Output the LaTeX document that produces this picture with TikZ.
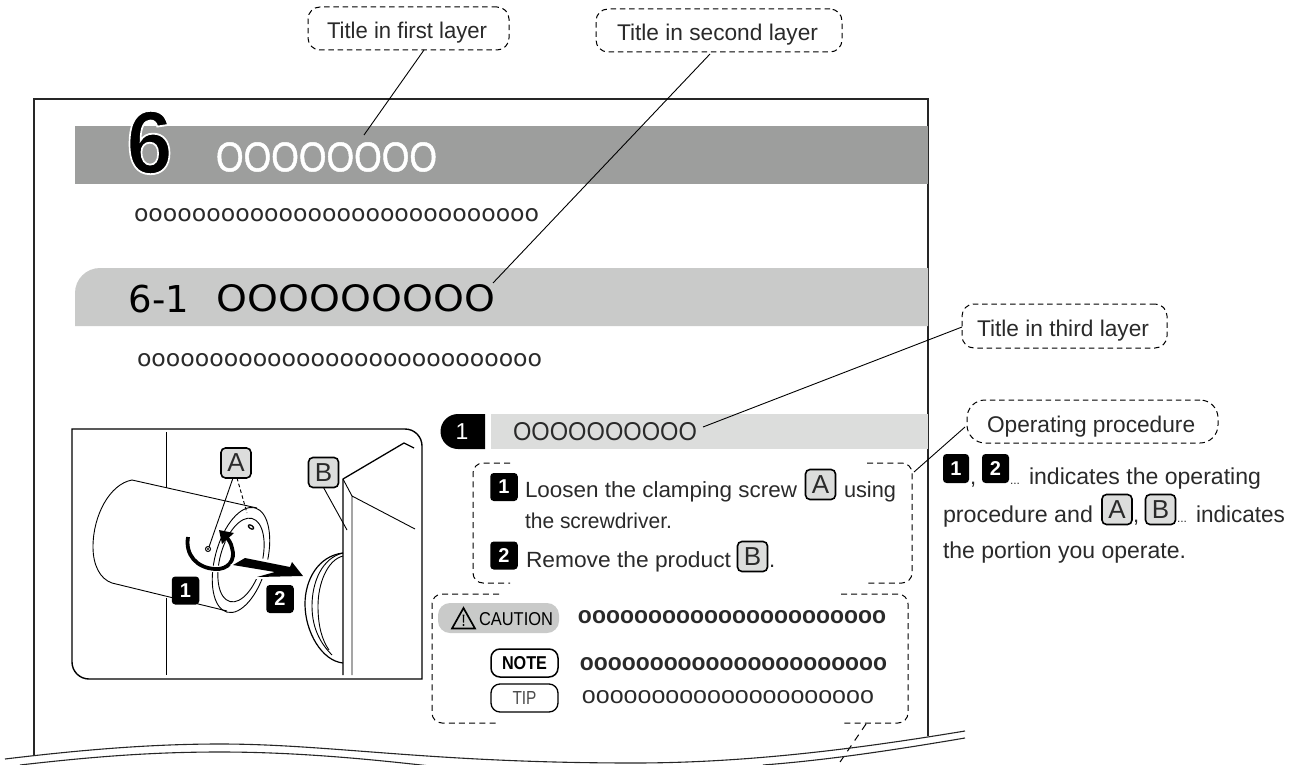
\documentclass[tikz,border=0pt]{standalone}
\usepackage{fontspec}
\usepackage{graphicx}
\setmainfont{Liberation Sans}
\newfontfamily\dejav{DejaVu Sans}
\definecolor{bandA}{HTML}{9D9E9D}
\definecolor{bandB}{HTML}{C9CAC9}
\definecolor{bandC}{HTML}{DCDDDC}
\definecolor{ink}{HTML}{2A2A2A}
\newcommand{\fz}[1]{\fontsize{#1}{#1}\selectfont}
\newcommand{\fitbox}[3]{\resizebox{#1pt}{#2pt}{#3}}
\newcommand{\fitw}[2]{\resizebox{#1pt}{\height}{#2}}
\newcommand{\strokedtext}[3]{\special{pdf:literal direct 2 Tr #2 w #1 RG}#3\special{pdf:literal direct 0 Tr 1 w 0 0 0 RG}}
\tikzset{
  every node/.style={inner sep=0pt,outer sep=0pt,text=ink},
  frameline/.style={draw=black!85,line width=1.3pt},
  thinline/.style={draw=black,line width=0.9pt},
  thickline/.style={draw=black,line width=1.4pt},
  dashline/.style={draw=black,line width=1pt,dash pattern=on 6pt off 4.2pt,rounded corners=10pt},
  callout/.style={draw=black,line width=1pt,dash pattern=on 5.5pt off 3.8pt,rounded corners=12pt,fill=white},
  lbl/.style={anchor=base west,font=\fz{22}},
  blackbox/.style={fill=black,rounded corners=3.5pt,text=white,font=\bfseries\fz{20},minimum width=27.5pt,minimum height=28pt},
  greybox/.style={draw=black,line width=1.6pt,fill=bandC,rounded corners=4.5pt,text=ink,font=\fz{26},minimum width=30pt,minimum height=30pt},
  badge/.style={draw=black,line width=1.3pt,fill=white,rounded corners=9pt,minimum width=67pt,minimum height=28pt},
  clbl/.style={anchor=base west,font=\fz{22.7}},
}
\begin{document}
\begin{tikzpicture}[x=1pt,y=-1pt]
\useasboundingbox (0,0) rectangle (1301,765);
% page frame
\draw[frameline] (34,755) -- (34,99) -- (928,99) -- (928,736);
% bands
\fill[bandA] (75,126) rectangle (928,184);
\fill[bandB] (75,326) -- (75,293) arc[start angle=180,end angle=90,x radius=25pt,y radius=25pt] -- (928,268) -- (928,326) -- cycle;
\fill[bandC] (491,414) rectangle (928,449);
\fill[black] (485,414) -- (458,414) arc[start angle=90,end angle=270,x radius=17.5pt,y radius=17.5pt] -- (485,449) -- cycle;
\node[text=white,font=\fz{23}] (pillnum) at (462,432) {1};
% titles
\node (six) at (149.5,142.5) {\fitbox{46}{62.5}{\bfseries\textcolor{black}{\strokedtext{1 1 1}{0.2}{6}}}};
\node[text=white] (tone) at (326.5,157) {\fitbox{221}{29}{\textcolor{white}{\strokedtext{1 1 1}{0.12}{OOOOOOOO}}}};
\node[anchor=base west] (bodyone) at (134,221.5) {\fitbox{405}{13}{\dejav oooooooooooooooooooooooooooo}};
\node[anchor=base west,font=\dejav\fz{37},text=black] (ttwonum) at (128.5,312) {6-1};
\node[text=black] (ttwo) at (356,298.5) {\fitbox{278}{27}{\dejav OOOOOOOOO}};
\node[anchor=base west] (bodytwo) at (137,366.5) {\fitbox{405}{13}{\dejav oooooooooooooooooooooooooooo}};
\node (tthree) at (605,431.5) {\fitbox{184}{18}{OOOOOOOOOO}};
% illustration
\draw[thickline] (72,429) -- (405,429) arc[start angle=90,end angle=0,x radius=17pt,y radius=17pt] -- (422,679) -- (89,679) arc[start angle=90,end angle=180,x radius=17pt,y radius=-17pt] -- cycle;
\draw[thinline] (166,432) -- (166,488);
\draw[thinline] (166,598) -- (166,675);
\draw[thinline] (132,480) -- (257,508);
\draw[thinline] (132,480) .. controls (110,484) and (93,515) .. (93,547) .. controls (93,565) and (100,579) .. (112,583) -- (227,611);
\draw[thinline,rotate around={75:(241,560)}] (241,560) ellipse [x radius=54pt,y radius=26pt];
\draw[thinline,rotate around={75:(241,560)}] (241,560) ellipse [x radius=43pt,y radius=21pt];
\draw[black,line width=1pt] (208,549) circle (2.5pt);
\fill[black] (208,549) circle (1.2pt);
\draw[black,line width=1.3pt,rotate around={-35:(251,527)}] (251,527) ellipse [x radius=3pt,y radius=1.6pt];
% plate and dome
\draw[black,line width=1.3pt] (343,675) -- (343,479) -- (404,443) -- (414,448);
\draw[thinline] (352,675) -- (352,496) -- (415,529);
\draw[thinline] (343,479) -- (352,496);
\draw[black,line width=1.2pt] (343,553) .. controls (318,556) and (305,580) .. (305,604) .. controls (305,632) and (322,661) .. (343,663);
\draw[thinline] (343,553) .. controls (322,558) and (312,582) .. (312,606) .. controls (312,630) and (322,645) .. (332,655);
\draw[thinline] (343,556) .. controls (327,560) and (318,584) .. (318,606) .. controls (318,626) and (322,640) .. (329,650);
% rotation arrow
\draw[white,line width=6.5pt] (188,537) .. controls (185,555) and (197,568) .. (215,569) .. controls (228,570) and (236,560) .. (232,548) .. controls (231,543) and (229,540) .. (226,537);
\draw[black,line width=3.8pt] (188,537) .. controls (185,555) and (197,568) .. (215,569) .. controls (228,570) and (236,560) .. (232,548) .. controls (231,543) and (229,540) .. (226,537);
\fill[black] (219,530) -- (234,533) -- (222,544) -- cycle;
% pull arrow
\fill[white] (230,565) -- (245,555) -- (290,564) -- (293,559) -- (306,578) -- (255,579) -- cycle;
\fill[black] (233,565) -- (245,558) -- (290,567) -- (292,562) -- (303,576) -- (257,577) -- (275,572) -- cycle;
% labels in illustration
\node[greybox] (illA) at (236,463) {A};
\node[greybox] (illB) at (323.5,472.5) {B};
\coordinate (screw) at (209,547);
\coordinate (ringscrew) at (247,513);
\coordinate (plate) at (347,530);
\draw[thinline] (illA.south) ++(-3,0) -- (screw);
\draw[black,line width=0.9pt,dash pattern=on 3.5pt off 2.5pt] (illA.south) ++(1,0) -- (ringscrew);
\draw[thinline] (illB.south) -- (plate);
\node[blackbox] (ill1) at (185.5,590.5) {1};
\node[blackbox] (ill2) at (280,599) {2};
% procedure block
\draw[dashline] (510,463) -- (473,463) -- (473,583) -- (510,583);
\draw[dashline] (867,463) -- (912,463) -- (912,583) -- (867,583);
\node[blackbox] (st1) at (504,487) {1};
\node[lbl] (st1a) at (525,497) {\fitw{272}{Loosen the clamping screw}};
\node[greybox] (stA) at (820.5,484.5) {A};
\node[lbl] (st1b) at (844,497) {\fitw{52}{using}};
\node[lbl,font=\fz{21.5}] (st1c) at (525,528) {\fitw{147}{the screwdriver.}};
\node[blackbox] (st2) at (504,555.5) {2};
\node[lbl] (st2a) at (526,567) {\fitw{205}{Remove the product}};
\node[greybox] (stB) at (752.5,556.5) {B};
\node[lbl] (st2b) at (769,567) {.};
% cautions block
\draw[dashline] (499,594) -- (432,594) -- (432,723) -- (499,723);
\draw[dashline] (841,594) -- (908,594) -- (908,723) -- (841,723);
\fill[bandB,rounded corners=12pt] (438,603) rectangle (559,633);
\draw[black,line width=1.7pt,line join=miter] (463.5,608) -- (475,628.5) -- (452,628.5) -- cycle;
\fill[black] (462.7,614.5) -- (464.3,614.5) -- (464,622.5) -- (463,622.5) -- cycle;
\fill[black] (463.5,625) circle (1.1pt);
\node (cau) at (516,619.5) {\fitbox{74}{13}{\textcolor{black}{CAUTION}}};
\node (ocau) at (732,617) {\fitbox{308}{13}{\bfseries oooooooooooooooooooooo}};
\node[badge,line width=1.5pt] (note) at (524.5,663) {\fitbox{45}{13}{\bfseries\textcolor{black}{NOTE}}};
\node (onote) at (733.5,664) {\fitbox{307}{13}{\bfseries oooooooooooooooooooooo}};
\node[badge] (tip) at (524.5,698) {\fitbox{24}{13}{\textcolor{black!70}{TIP}}};
\node (otip) at (728,697.5) {\fitbox{292}{13}{ooooooooooooooooooooo}};
% callouts
\node[callout,minimum width=201pt,minimum height=43pt] (c1) at (408.5,28.5) {};
\node[clbl] (c1t) at (327,39) {\fitw{160}{Title in first layer}};
\node[callout,minimum width=246pt,minimum height=43pt] (c2) at (719,30.5) {};
\node[clbl] (c2t) at (617,41) {Title in second layer};
\node[callout,minimum width=205pt,minimum height=44pt] (c3) at (1064.5,326) {};
\node[clbl] (c3t) at (977,336) {Title in third layer};
\node[callout,rounded corners=18pt,minimum width=251pt,minimum height=43pt] (c4) at (1092.5,421.5) {};
\node[clbl] (c4t) at (987,432) {Operating procedure};
% connectors
\coordinate (c1a) at (424,50); \coordinate (c1b) at (364,135);
\coordinate (c2a) at (710,54); \coordinate (c2b) at (493,283);
\coordinate (c3a) at (962,327); \coordinate (c3b) at (703,427);
\coordinate (c4a) at (965,427); \coordinate (c4b) at (914,472);
\coordinate (c5a) at (866,724); \coordinate (c5b) at (838,765);
\draw[thinline] (c1a) -- (c1b);
\draw[thinline] (c2a) -- (c2b);
\draw[thinline] (c3a) -- (c3b);
\draw[thinline] (c4a) -- (c4b);
\draw[black,line width=1pt,dash pattern=on 7pt off 6pt] (c5a) -- (c5b);
% side note
\node[blackbox,minimum width=26pt,minimum height=29pt] (n1) at (956,468.5) {1};
\node[lbl] (nc1) at (970,484) {,};
\node[blackbox,minimum width=27pt,minimum height=29pt] (n2) at (995.5,468.5) {2};
\node[lbl,font=\fz{12}] (nd1) at (1010,484) {...};
\node[lbl,font=\fz{23}] (nt1) at (1029,484) {\fitw{232}{indicates the operating}};
\node[lbl,font=\fz{23}] (nt2) at (943,522) {\fitw{150}{procedure and}};
\node[greybox] (nA) at (1117,509.5) {A};
\node[lbl] (nc2) at (1133,522) {,};
\node[greybox] (nB) at (1160.5,509.5) {B};
\node[lbl,font=\fz{12}] (nd2) at (1177,522) {...};
\node[lbl,font=\fz{23}] (nt3) at (1196,522) {\fitw{89}{indicates}};
\node[lbl,font=\fz{23}] (nt4) at (943,558) {\fitw{243}{the portion you operate.}};
% torn edge
\draw[frameline,line width=1.1pt] (5,759) .. controls (80,750) and (150,744) .. (220,744) .. controls (330,744) and (430,763) .. (634,763) .. controls (760,763) and (880,745) .. (965,731);
\draw[frameline,line width=1.1pt] (20,765) .. controls (90,757) and (150,752) .. (220,752) .. controls (290,752) and (360,758) .. (430,766);
\draw[frameline,line width=1.1pt] (763,765) .. controls (830,760) and (900,749) .. (965,738);
\end{tikzpicture}
\end{document}
